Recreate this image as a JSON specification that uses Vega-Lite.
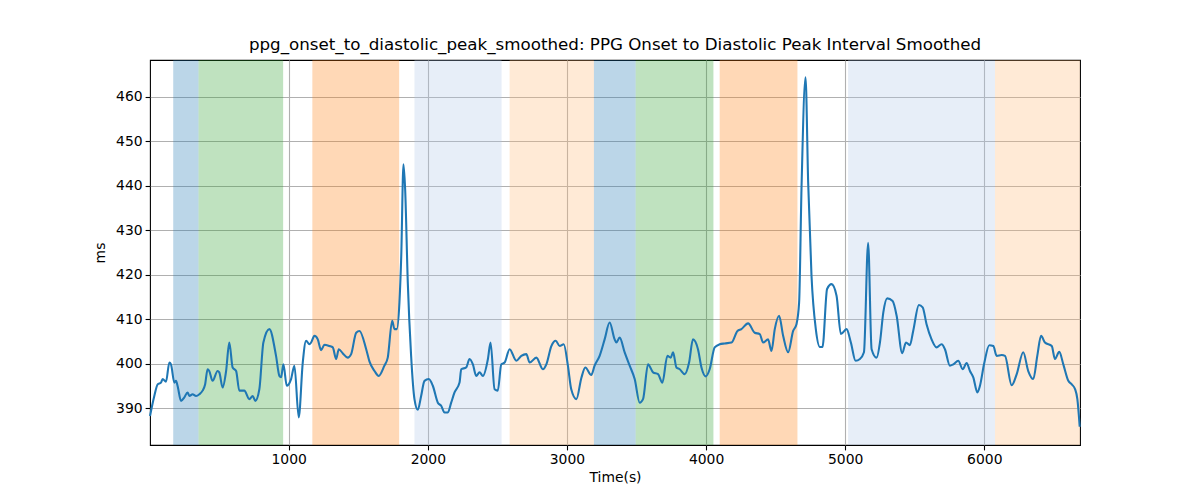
{
  "$schema": "https://vega.github.io/schema/vega-lite/v6.json",
  "width": 930,
  "height": 385,
  "autosize": {"type": "none"},
  "padding": {"left": 150, "top": 60, "right": 120, "bottom": 55},
  "background": "white",
  "config": {
    "font": "DejaVu Sans",
    "view": {"stroke": "black", "strokeWidth": 1.1},
    "axis": {
      "labelFont": "DejaVu Sans", "labelFontSize": 13.9, "labelColor": "black",
      "titleFont": "DejaVu Sans", "titleFontSize": 13.9, "titleFontWeight": "normal", "titleColor": "black",
      "tickColor": "black", "tickSize": 4.9, "tickWidth": 1.1, "labelPadding": 3,
      "domain": false, "grid": true, "gridColor": "#b0b0b0", "gridWidth": 1.1
    },
    "title": {"font": "DejaVu Sans", "fontSize": 16.7, "fontWeight": "normal", "color": "black", "offset": 6}
  },
  "title": {"text": "ppg_onset_to_diastolic_peak_smoothed: PPG Onset to Diastolic Peak Interval Smoothed", "anchor": "middle"},
  "datasets": {
    "regions": [
      {"start": 170, "end": 352, "kind": "b"},
      {"start": 352, "end": 960, "kind": "g"},
      {"start": 1170, "end": 1794, "kind": "o"},
      {"start": 1904, "end": 2530, "kind": "lb"},
      {"start": 2588, "end": 3194, "kind": "lo"},
      {"start": 3194, "end": 3494, "kind": "b"},
      {"start": 3494, "end": 4053, "kind": "g"},
      {"start": 4098, "end": 4657, "kind": "o"},
      {"start": 5021, "end": 6077, "kind": "lb"},
      {"start": 6077, "end": 6688, "kind": "lo"}
    ],
    "series": [
      {"t": 3, "v": 388.3}, {"t": 34, "v": 392.8}, {"t": 58, "v": 395.4}, {"t": 82, "v": 395.8},
      {"t": 94, "v": 396.6}, {"t": 118, "v": 396.0}, {"t": 142, "v": 400.3}, {"t": 154, "v": 399.9},
      {"t": 178, "v": 395.8}, {"t": 190, "v": 396.2}, {"t": 201, "v": 395.1}, {"t": 226, "v": 391.7},
      {"t": 250, "v": 392.5}, {"t": 273, "v": 393.6}, {"t": 286, "v": 392.8}, {"t": 309, "v": 393.2},
      {"t": 334, "v": 392.8}, {"t": 358, "v": 393.2}, {"t": 381, "v": 394.0}, {"t": 399, "v": 395.4},
      {"t": 417, "v": 398.8}, {"t": 429, "v": 398.4}, {"t": 453, "v": 396.2}, {"t": 489, "v": 398.4},
      {"t": 501, "v": 398.1}, {"t": 525, "v": 394.7}, {"t": 550, "v": 398.4}, {"t": 573, "v": 404.8},
      {"t": 597, "v": 399.2}, {"t": 622, "v": 398.4}, {"t": 645, "v": 394.0}, {"t": 681, "v": 394.0},
      {"t": 717, "v": 392.1}, {"t": 741, "v": 392.8}, {"t": 760, "v": 391.7}, {"t": 789, "v": 394.3},
      {"t": 818, "v": 404.8}, {"t": 861, "v": 407.8}, {"t": 909, "v": 401.8}, {"t": 933, "v": 397.3},
      {"t": 945, "v": 397.0}, {"t": 962, "v": 399.9}, {"t": 986, "v": 395.1}, {"t": 1017, "v": 396.6},
      {"t": 1041, "v": 399.6}, {"t": 1072, "v": 388.0}, {"t": 1101, "v": 400.3}, {"t": 1125, "v": 405.2},
      {"t": 1149, "v": 404.4}, {"t": 1161, "v": 404.8}, {"t": 1185, "v": 406.3}, {"t": 1209, "v": 405.5},
      {"t": 1233, "v": 403.1}, {"t": 1257, "v": 404.3}, {"t": 1293, "v": 404.0}, {"t": 1317, "v": 403.7},
      {"t": 1341, "v": 401.1}, {"t": 1360, "v": 403.3}, {"t": 1388, "v": 402.4}, {"t": 1424, "v": 401.4},
      {"t": 1449, "v": 402.2}, {"t": 1485, "v": 407.0}, {"t": 1509, "v": 407.4}, {"t": 1557, "v": 403.3},
      {"t": 1581, "v": 400.5}, {"t": 1617, "v": 398.4}, {"t": 1647, "v": 397.3}, {"t": 1688, "v": 399.6},
      {"t": 1712, "v": 401.4}, {"t": 1744, "v": 409.7}, {"t": 1760, "v": 407.8}, {"t": 1777, "v": 407.8},
      {"t": 1796, "v": 413.8}, {"t": 1809, "v": 424.2}, {"t": 1825, "v": 444.8}, {"t": 1837, "v": 439.2},
      {"t": 1856, "v": 418.3}, {"t": 1880, "v": 401.8}, {"t": 1904, "v": 392.1}, {"t": 1928, "v": 389.7},
      {"t": 1952, "v": 392.8}, {"t": 1976, "v": 396.2}, {"t": 2007, "v": 396.6}, {"t": 2036, "v": 395.1},
      {"t": 2072, "v": 391.3}, {"t": 2096, "v": 390.6}, {"t": 2120, "v": 389.1}, {"t": 2144, "v": 389.1},
      {"t": 2168, "v": 391.3}, {"t": 2192, "v": 393.6}, {"t": 2228, "v": 395.8}, {"t": 2240, "v": 398.8},
      {"t": 2276, "v": 399.2}, {"t": 2300, "v": 401.1}, {"t": 2324, "v": 399.9}, {"t": 2348, "v": 397.3},
      {"t": 2372, "v": 398.1}, {"t": 2396, "v": 397.3}, {"t": 2432, "v": 401.1}, {"t": 2451, "v": 404.8},
      {"t": 2480, "v": 394.3}, {"t": 2503, "v": 394.0}, {"t": 2528, "v": 399.9}, {"t": 2552, "v": 400.3},
      {"t": 2588, "v": 403.3}, {"t": 2636, "v": 400.7}, {"t": 2672, "v": 401.8}, {"t": 2708, "v": 402.2},
      {"t": 2732, "v": 400.3}, {"t": 2780, "v": 401.4}, {"t": 2827, "v": 398.8}, {"t": 2852, "v": 399.9},
      {"t": 2888, "v": 404.0}, {"t": 2919, "v": 405.2}, {"t": 2948, "v": 404.0}, {"t": 2977, "v": 404.4},
      {"t": 3007, "v": 399.6}, {"t": 3031, "v": 394.3}, {"t": 3068, "v": 392.1}, {"t": 3104, "v": 396.9},
      {"t": 3132, "v": 399.2}, {"t": 3175, "v": 397.5}, {"t": 3199, "v": 399.6}, {"t": 3235, "v": 401.8},
      {"t": 3271, "v": 405.5}, {"t": 3307, "v": 409.3}, {"t": 3343, "v": 405.5}, {"t": 3355, "v": 404.8},
      {"t": 3379, "v": 405.9}, {"t": 3415, "v": 402.6}, {"t": 3451, "v": 399.6}, {"t": 3487, "v": 396.6},
      {"t": 3523, "v": 391.3}, {"t": 3547, "v": 392.1}, {"t": 3583, "v": 399.9}, {"t": 3619, "v": 398.1},
      {"t": 3655, "v": 397.7}, {"t": 3686, "v": 395.8}, {"t": 3722, "v": 401.8}, {"t": 3746, "v": 401.4},
      {"t": 3763, "v": 402.6}, {"t": 3787, "v": 399.2}, {"t": 3811, "v": 398.8}, {"t": 3847, "v": 397.7},
      {"t": 3878, "v": 400.3}, {"t": 3906, "v": 405.5}, {"t": 3942, "v": 403.3}, {"t": 3967, "v": 399.2},
      {"t": 3998, "v": 397.2}, {"t": 4026, "v": 398.8}, {"t": 4062, "v": 403.7}, {"t": 4098, "v": 404.4},
      {"t": 4134, "v": 404.6}, {"t": 4183, "v": 404.8}, {"t": 4226, "v": 407.4}, {"t": 4254, "v": 407.8},
      {"t": 4302, "v": 409.1}, {"t": 4350, "v": 407.0}, {"t": 4386, "v": 406.7}, {"t": 4410, "v": 404.8},
      {"t": 4446, "v": 405.5}, {"t": 4470, "v": 402.9}, {"t": 4494, "v": 407.8}, {"t": 4525, "v": 410.8},
      {"t": 4554, "v": 406.3}, {"t": 4590, "v": 402.6}, {"t": 4626, "v": 407.4}, {"t": 4650, "v": 408.9},
      {"t": 4669, "v": 413.8}, {"t": 4686, "v": 439.2}, {"t": 4715, "v": 464.3}, {"t": 4734, "v": 440.7},
      {"t": 4758, "v": 419.8}, {"t": 4789, "v": 407.8}, {"t": 4818, "v": 403.8}, {"t": 4837, "v": 403.8},
      {"t": 4870, "v": 416.8}, {"t": 4902, "v": 417.9}, {"t": 4938, "v": 415.3}, {"t": 4969, "v": 406.7},
      {"t": 5010, "v": 407.8}, {"t": 5041, "v": 404.8}, {"t": 5075, "v": 400.7}, {"t": 5106, "v": 401.1},
      {"t": 5135, "v": 402.6}, {"t": 5165, "v": 427.2}, {"t": 5190, "v": 403.3}, {"t": 5226, "v": 401.4},
      {"t": 5250, "v": 404.8}, {"t": 5274, "v": 411.5}, {"t": 5302, "v": 414.7}, {"t": 5341, "v": 414.1},
      {"t": 5370, "v": 410.8}, {"t": 5410, "v": 402.4}, {"t": 5437, "v": 404.8}, {"t": 5465, "v": 404.2},
      {"t": 5489, "v": 407.4}, {"t": 5530, "v": 413.2}, {"t": 5557, "v": 412.7}, {"t": 5585, "v": 408.9},
      {"t": 5621, "v": 405.5}, {"t": 5657, "v": 403.7}, {"t": 5693, "v": 404.4}, {"t": 5717, "v": 403.3},
      {"t": 5753, "v": 399.6}, {"t": 5777, "v": 399.9}, {"t": 5813, "v": 400.7}, {"t": 5845, "v": 398.8},
      {"t": 5873, "v": 400.2}, {"t": 5897, "v": 398.4}, {"t": 5921, "v": 397.0}, {"t": 5950, "v": 393.6},
      {"t": 5969, "v": 395.1}, {"t": 5998, "v": 399.9}, {"t": 6036, "v": 404.2}, {"t": 6065, "v": 404.0},
      {"t": 6089, "v": 401.8}, {"t": 6125, "v": 402.0}, {"t": 6149, "v": 401.8}, {"t": 6197, "v": 395.2},
      {"t": 6233, "v": 397.7}, {"t": 6280, "v": 402.6}, {"t": 6316, "v": 398.4}, {"t": 6352, "v": 396.6},
      {"t": 6381, "v": 401.8}, {"t": 6408, "v": 406.3}, {"t": 6436, "v": 404.8}, {"t": 6485, "v": 404.0},
      {"t": 6508, "v": 401.1}, {"t": 6539, "v": 402.7}, {"t": 6568, "v": 399.9}, {"t": 6604, "v": 396.2},
      {"t": 6629, "v": 395.4}, {"t": 6653, "v": 394.3}, {"t": 6669, "v": 392.1}, {"t": 6686, "v": 385.9}
    ]
  },
  "layer": [
    {
      "data": {"name": "regions"},
      "mark": {"type": "rect", "opacity": 0.3},
      "encoding": {
        "x": {"field": "start", "type": "quantitative", "scale": {"domain": [3, 6688], "nice": false, "zero": false},
              "axis": {"title": "Time(s)", "values": [1000, 2000, 3000, 4000, 5000, 6000], "format": "d", "titlePadding": 4}},
        "x2": {"field": "end"},
        "color": {"field": "kind", "type": "nominal",
                  "scale": {"domain": ["b", "g", "o", "lb", "lo"], "range": ["#1f77b4", "#2ca02c", "#ff7f0e", "#aec7e8", "#ffbb78"]},
                  "legend": null}
      }
    },
    {
      "data": {"name": "series"},
      "mark": {"type": "line", "color": "#1f77b4", "strokeWidth": 2.08, "interpolate": "monotone"},
      "encoding": {
        "x": {"field": "t", "type": "quantitative"},
        "y": {"field": "v", "type": "quantitative", "scale": {"domain": [381.8, 468.2], "nice": false, "zero": false},
              "axis": {"title": "ms", "values": [390, 400, 410, 420, 430, 440, 450, 460], "titlePadding": 8}}
      }
    }
  ]
}
